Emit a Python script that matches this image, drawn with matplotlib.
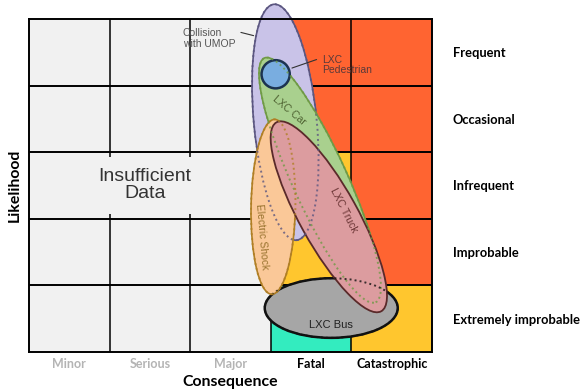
import matplotlib
matplotlib.use("Agg")
import matplotlib.pyplot as plt
from matplotlib.patches import Ellipse, Rectangle
from matplotlib.transforms import Affine2D

# risk matrix layout
consequences = ["Minor", "Serious", "Major", "Fatal", "Catastrophic"]
likelihoods = ["Extremely improbable", "Improbable", "Infrequent", "Occasional", "Frequent"]
cons_colors = ["#b4b4b4", "#b4b4b4", "#b4b4b4", "black", "black"]

# cell level per [likelihood row][consequence column], bottom row first
cell_levels = [
    ["na", "na", "na", "low", "med"],
    ["na", "na", "na", "med", "high"],
    ["na", "na", "na", "med", "high"],
    ["na", "na", "na", "high", "high"],
    ["na", "na", "na", "high", "high"],
]
level_colors = {"na": "#f1f1f1", "low": "#33ecbf", "med": "#ffc62e", "high": "#ff6431"}

# hazards: name, centre (consequence, likelihood), width, length (column widths), angle
hazards = ["Collision with UMOP", "LXC Car", "LXC Bus", "Electric Shock", "LXC Truck", "LXC Pedestrian"]
haz_x = [3.18, 3.61, 3.75, 3.03, 3.72, 3.06]
haz_y = [3.45, 2.58, 0.66, 2.18, 2.03, 4.17]
haz_w = [0.78, 0.68, 1.65, 0.55, 0.72, 0.35]
haz_h = [2.94, 3.33, 0.74, 2.17, 2.68, 0.35]
haz_angle = [5.5, 24.5, 0, -1, 29, 0]
haz_fill = ["#c9c3e8", "#a9d08e", "#a6a6a6", "#fac898", "#dc9c9f", "#79ade0"]
haz_edge = ["#5b5680", "#6f9a45", "#111111", "#b07f25", "#5a2a2a", "#1c3350"]
haz_lw = [1.2, 1.2, 1.8, 1.2, 1.3, 1.8]

fig = plt.figure(figsize=(5.84, 3.91), dpi=100)
ax = fig.add_axes([29 / 584, 39 / 391, 403 / 584, 333 / 391])
ax.set_xlim(0, 5)
ax.set_ylim(0, 5)

for r, row in enumerate(cell_levels):
    for c, lev in enumerate(row):
        ax.add_patch(Rectangle((c, r), 1, 1, facecolor=level_colors[lev], edgecolor="none", zorder=0))

# grid lines (Infrequent row is merged for the first three columns)
ax.hlines([1, 2, 3, 4], 0, 5, colors="black", lw=1.4, zorder=1)
ax.vlines([1, 2], 0, 2.07, colors="black", lw=1.1, zorder=1)
ax.vlines([1, 2], 2.93, 5, colors="black", lw=1.1, zorder=1)
ax.vlines([3, 4], 0, 5, colors="black", lw=1.1, zorder=1)
for s in ax.spines.values():
    s.set_linewidth(1.4)
    s.set_zorder(10)

ax.text(1.44, 2.51, "Insufficient\nData", ha="center", va="center", fontsize=14,
        color="#333333", family="Liberation Sans", linespacing=1.05, zorder=1)

# ellipses drawn in a space with square pixels
ratio = (333 / 5) / (403 / 5)
iso = Affine2D().scale(1, 1 / ratio) + ax.transData
for i, name in enumerate(hazards):
    e = Ellipse((haz_x[i], haz_y[i] * ratio), haz_w[i], haz_h[i], angle=haz_angle[i],
                facecolor=haz_fill[i], edgecolor=haz_edge[i], lw=haz_lw[i],
                transform=iso, zorder=2 + i, clip_on=False)
    ax.add_patch(e)
    if name not in ("LXC Truck", "LXC Pedestrian"):
        # hidden outlines show through as dotted lines
        ax.add_patch(Ellipse((haz_x[i], haz_y[i] * ratio), haz_w[i], haz_h[i], angle=haz_angle[i],
                             facecolor="none", edgecolor=haz_edge[i], lw=1.4, linestyle=(0, (1, 1.6)),
                             alpha=0.8, transform=iso, zorder=9, clip_on=False))

lab = dict(family="Liberation Sans", fontsize=7.5, zorder=12)
ax.annotate("Collision\nwith UMOP", xy=(2.82, 4.74), xytext=(1.91, 4.71), ha="left", va="center",
            color="#555555", linespacing=1.1,
            arrowprops=dict(arrowstyle="-", color="#333333", lw=0.8, relpos=(1.0, 0.85)), **lab)
ax.annotate("LXC\nPedestrian", xy=(3.23, 4.25), xytext=(3.635, 4.31), ha="left", va="center",
            color="#5a3a3a", linespacing=1.1,
            arrowprops=dict(arrowstyle="-", color="#333333", lw=0.8, relpos=(0.0, 0.85)), **lab)
ax.text(3.23, 3.63, "LXC Car", rotation=-40, ha="center", va="center", color="#4f6332", **lab)
ax.text(3.91, 2.13, "LXC Truck", rotation=-63, ha="center", va="center", color="#6b3535", **lab)
ax.text(2.89, 1.73, "Electric Shock", rotation=-85, ha="center", va="center", color="#9a7430", **lab)
ax.text(3.75, 0.40, "LXC Bus", ha="center", va="center", color="#222222",
        family="Liberation Sans", fontsize=8, zorder=12)

# axis labels
tick_font = dict(family="Lato", weight="bold", fontsize=9)
ax.set_xticks([c + 0.5 for c in range(5)])
ax.set_xticklabels(consequences, **tick_font)
for t, col in zip(ax.get_xticklabels(), cons_colors):
    t.set_color(col)
ax.yaxis.tick_right()
ax.set_yticks([r + 0.5 for r in range(5)])
ax.set_yticklabels(likelihoods, family="Lato", weight="bold", fontsize=9.3)
ax.tick_params(length=0)
ax.tick_params(axis="x", pad=4)
ax.tick_params(axis="y", pad=15)

ax.text(0.5, -30 / 333, "Consequence", transform=ax.transAxes, ha="center", va="center",
        family="Lato", weight="bold", fontsize=11.4)
ax.text(-14 / 403, 0.5, "Likelihood", transform=ax.transAxes, rotation=90, ha="center", va="center",
        family="Lato", weight="bold", fontsize=11.4)

fig.savefig("out.png", dpi=100)
